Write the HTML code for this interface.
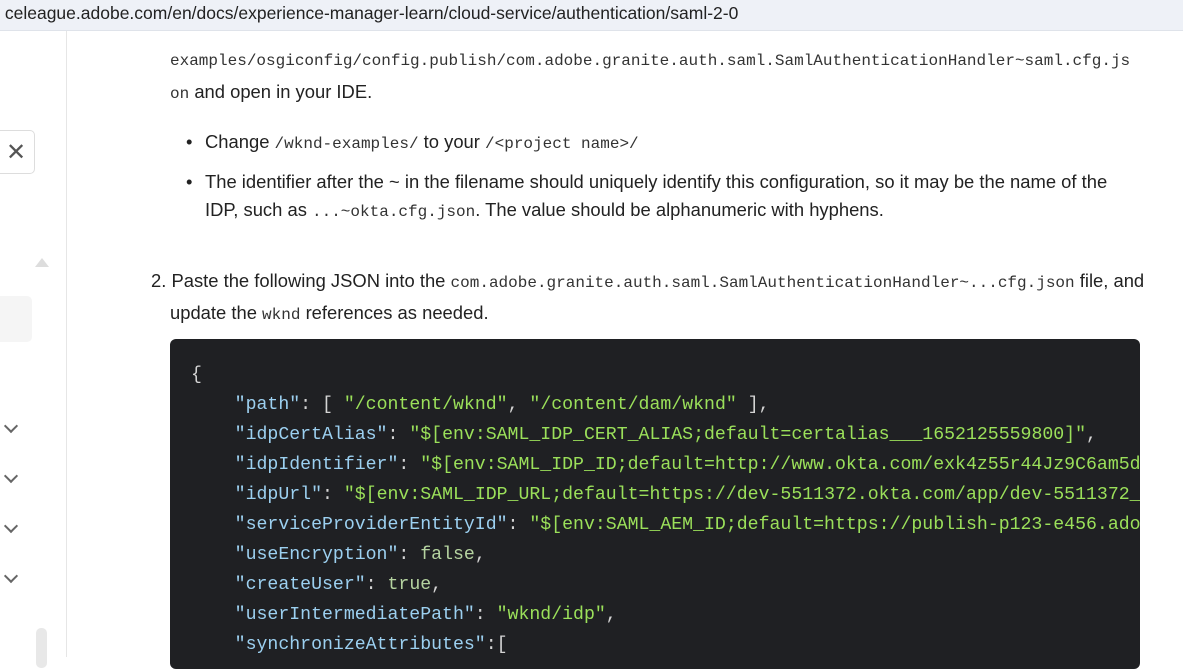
<!DOCTYPE html>
<html><head><meta charset="utf-8"><style>
body{margin:0;width:1183px;height:657px;overflow:hidden;background:#fff;font-family:"Liberation Sans",sans-serif;color:#222;position:relative}
.url{position:absolute;left:0;top:0;width:1183px;height:30px;background:#eef1f7;font-size:17.5px;line-height:26px;color:#222;white-space:nowrap;border-bottom:1px solid #dfe3ea}
.side{position:absolute;left:66px;top:31px;width:1px;height:626px;background:#e6e6e6}
.a{position:absolute;white-space:nowrap;font-size:18.4px;color:#222}
.m{font-family:"Liberation Mono",monospace;font-size:16px;color:#333}
.code{position:absolute;left:170px;top:339px;width:970px;height:330px;background:#1f2023;border-radius:6px;overflow:hidden}
.code pre{margin:0;position:absolute;left:21px;top:21px;font-family:"Liberation Mono",monospace;font-size:18.2px;line-height:30px;color:#d4d4d4}
.k{color:#9cd0f0}.s{color:#9be05a}.b{color:#b5d3a0}
.chev{position:absolute;left:6px;width:8px;height:8px;border-right:2px solid #666;border-bottom:2px solid #666;transform:rotate(45deg)}
</style></head><body>
<div class="url">&nbsp;celeague.adobe.com/en/docs/experience-manager-learn/cloud-service/authentication/saml-2-0</div>
<div class="side"></div>
<div style="position:absolute;left:-10px;top:130px;width:43px;height:42px;border:1px solid #ddd;border-radius:5px"></div>
<div style="position:absolute;left:6px;top:138px;font-size:24px;color:#555">✕</div>
<div style="position:absolute;left:35px;top:258px;width:0;height:0;border-left:7px solid transparent;border-right:7px solid transparent;border-bottom:9px solid #ddd"></div>
<div style="position:absolute;left:-5px;top:296px;width:37px;height:46px;background:#f5f5f5;border-radius:5px"></div>
<div class="chev" style="top:421px"></div>
<div class="chev" style="top:471px"></div>
<div class="chev" style="top:521px"></div>
<div class="chev" style="top:571px"></div>
<div style="position:absolute;left:36px;top:628px;width:11px;height:40px;background:#e8e8e8;border-radius:5px"></div>

<div class="a m" style="left:170px;top:52px">examples/osgiconfig/config.publish/com.adobe.granite.auth.saml.SamlAuthenticationHandler~saml.cfg.js</div>
<div class="a" style="left:170px;top:81px"><span class="m">on</span> and open in your IDE.</div>
<div class="a" style="left:186px;top:131px">•</div>
<div class="a" style="left:205px;top:131px">Change <span class="m">/wknd-examples/</span> to your <span class="m">/&lt;project name&gt;/</span></div>
<div class="a" style="left:186px;top:171px">•</div>
<div class="a" style="left:205px;top:171px">The identifier after the ~ in the filename should uniquely identify this configuration, so it may be the name of the</div>
<div class="a" style="left:205px;top:199px">IDP, such as <span class="m">...~okta.cfg.json</span>. The value should be alphanumeric with hyphens.</div>
<div class="a" style="left:151px;top:270px">2. Paste the following JSON into the <span class="m">com.adobe.granite.auth.saml.SamlAuthenticationHandler~...cfg.json</span> file, and</div>
<div class="a" style="left:170px;top:302px">update the <span class="m">wknd</span> references as needed.</div>
<div class="code"><pre>{
    <span class="k">"path"</span>: [ <span class="s">"/content/wknd"</span>, <span class="s">"/content/dam/wknd"</span> ],
    <span class="k">"idpCertAlias"</span>: <span class="s">"$[env:SAML_IDP_CERT_ALIAS;default=certalias___1652125559800]"</span>,
    <span class="k">"idpIdentifier"</span>: <span class="s">"$[env:SAML_IDP_ID;default=http://www.okta.com/exk4z55r44Jz9C6am5d7]"</span>,
    <span class="k">"idpUrl"</span>: <span class="s">"$[env:SAML_IDP_URL;default=https://dev-5511372.okta.com/app/dev-5511372_aem_1/sso]"</span>,
    <span class="k">"serviceProviderEntityId"</span>: <span class="s">"$[env:SAML_AEM_ID;default=https://publish-p123-e456.adobeaemcloud.com]"</span>,
    <span class="k">"useEncryption"</span>: <span class="b">false</span>,
    <span class="k">"createUser"</span>: <span class="b">true</span>,
    <span class="k">"userIntermediatePath"</span>: <span class="s">"wknd/idp"</span>,
    <span class="k">"synchronizeAttributes"</span>:[</pre></div>
</body></html>
